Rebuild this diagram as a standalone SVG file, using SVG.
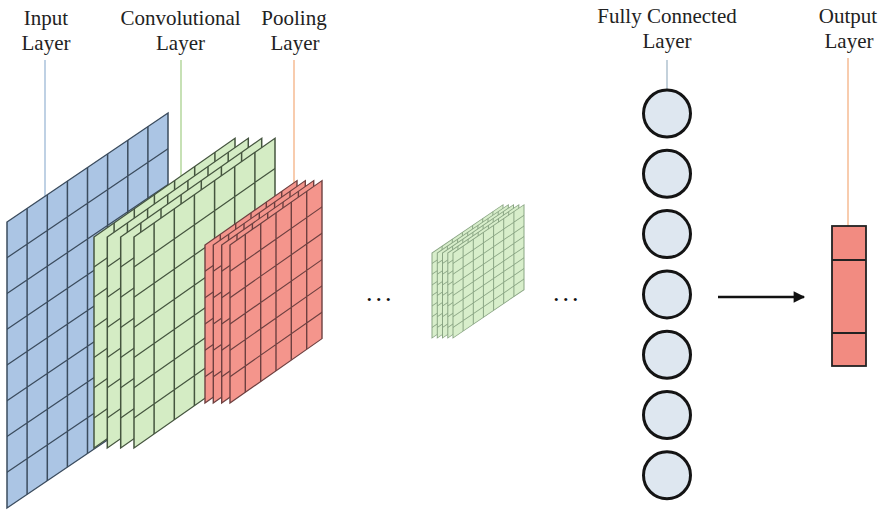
<svg xmlns="http://www.w3.org/2000/svg" xmlns:xlink="http://www.w3.org/1999/xlink" width="881" height="510" viewBox="0 0 881 510">
<style>
.lbl{font-family:"Liberation Serif","Times New Roman",serif;font-size:21px;fill:#222;text-anchor:middle}
.dots{font-family:"Liberation Serif","Times New Roman",serif;font-size:26px;fill:#111;letter-spacing:3px}
.blue rect{fill:#abc5e4;stroke:#3b4c5e;stroke-width:1.5}
.blue path{fill:none;stroke:#3b4c5e;stroke-width:1.5}
.green rect{fill:#d4ecc4;stroke:#45553f;stroke-width:1.5}
.green path{fill:none;stroke:#45553f;stroke-width:1.5}
.red rect{fill:#f4958c;stroke:#6e4040;stroke-width:1.4}
.red path{fill:none;stroke:#6e4040;stroke-width:1.4}
.lg rect{fill:#d8eecb;stroke:#8aa584;stroke-width:1}
.lg path{fill:none;stroke:#8aa584;stroke-width:1}
.node{fill:#dee7f0;stroke:#141414;stroke-width:3}
.lead{fill:none;stroke-width:1.3}
</style>
<defs>
<g id="inSheet" class="blue">
<rect x="0" y="0" width="161" height="286"/>
<path d="M20.1 0V286M40.3 0V286M60.4 0V286M80.5 0V286M100.6 0V286M120.8 0V286M140.9 0V286M0 35.75H161M0 71.5H161M0 107.25H161M0 143H161M0 178.75H161M0 214.5H161M0 250.25H161"/>
</g>
<g id="convSheet" class="green">
<rect x="0" y="0" width="141" height="211"/>
<path d="M20.1 0V211M40.3 0V211M60.4 0V211M80.6 0V211M100.7 0V211M120.9 0V211M0 30.1H141M0 60.3H141M0 90.4H141M0 120.6H141M0 150.7H141M0 180.9H141"/>
</g>
<g id="poolSheet" class="red">
<rect x="0" y="0" width="92" height="158"/>
<path d="M15.3 0V158M30.7 0V158M46 0V158M61.3 0V158M76.7 0V158M0 26.3H92M0 52.7H92M0 79H92M0 105.3H92M0 131.7H92"/>
</g>
<g id="smallSheet" class="lg">
<rect x="0" y="0" width="71" height="85"/>
<path d="M10.1 0V85M20.3 0V85M30.4 0V85M40.6 0V85M50.7 0V85M60.9 0V85M0 10.6H71M0 21.3H71M0 31.9H71M0 42.5H71M0 53.1H71M0 63.8H71M0 74.4H71"/>
</g>
<marker id="arrow" viewBox="0 0 10 10" refX="9" refY="5" markerWidth="5" markerHeight="4.6" orient="auto" markerUnits="strokeWidth">
<path d="M0 0L10 5L0 10Z" fill="#111"/>
</marker>
</defs>
<rect width="881" height="510" fill="#ffffff"/>
<g id="connectors">
<line class="lead" x1="45" y1="60" x2="45" y2="200" stroke="#9db9d6"/>
<line class="lead" x1="181" y1="60" x2="181" y2="180" stroke="#a9d18e"/>
<line class="lead" x1="294" y1="60" x2="294" y2="186" stroke="#f4b183"/>
<line class="lead" x1="667" y1="60" x2="667" y2="90" stroke="#a4b8c8"/>
<line class="lead" x1="848" y1="58" x2="848" y2="226" stroke="#f4b183"/>
<line x1="718" y1="297" x2="804" y2="297" stroke="#111" stroke-width="2.5" marker-end="url(#arrow)"/>
</g>
<g id="input-layer">
<use xlink:href="#inSheet" transform="matrix(1,-0.677,0,1,7,222)"/>
<text class="lbl" x="46" y="25">Input</text>
<text class="lbl" x="46" y="50">Layer</text>
</g>
<g id="conv-layer">
<use xlink:href="#convSheet" transform="matrix(1,-0.7,0,1,94,237)"/>
<use xlink:href="#convSheet" transform="matrix(1,-0.7,0,1,107.3,237)"/>
<use xlink:href="#convSheet" transform="matrix(1,-0.7,0,1,120.7,237)"/>
<use xlink:href="#convSheet" transform="matrix(1,-0.7,0,1,134,237)"/>
<text class="lbl" x="180.5" y="25">Convolutional</text>
<text class="lbl" x="180.5" y="50">Layer</text>
</g>
<g id="pooling-layer">
<use xlink:href="#poolSheet" transform="matrix(1,-0.7,0,1,205,245)"/>
<use xlink:href="#poolSheet" transform="matrix(1,-0.7,0,1,213.3,245)"/>
<use xlink:href="#poolSheet" transform="matrix(1,-0.7,0,1,221.7,245)"/>
<use xlink:href="#poolSheet" transform="matrix(1,-0.7,0,1,230,245)"/>
<text class="lbl" x="294" y="25">Pooling</text>
<text class="lbl" x="295" y="50">Layer</text>
</g>
<g id="dots-left"><text class="dots" x="366" y="301">...</text></g>
<g id="feature-maps">
<use xlink:href="#smallSheet" transform="matrix(1,-0.68,0,1,432,253)"/>
<use xlink:href="#smallSheet" transform="matrix(1,-0.68,0,1,437.3,253)"/>
<use xlink:href="#smallSheet" transform="matrix(1,-0.68,0,1,442.5,253)"/>
<use xlink:href="#smallSheet" transform="matrix(1,-0.68,0,1,447.8,253)"/>
<use xlink:href="#smallSheet" transform="matrix(1,-0.68,0,1,453,253)"/>
</g>
<g id="dots-right"><text class="dots" x="553" y="301">...</text></g>
<g id="fc-layer">
<text class="lbl" x="667" y="23">Fully Connected</text>
<text class="lbl" x="667" y="48">Layer</text>
<circle class="node" cx="667" cy="113.5" r="23.5"/>
<circle class="node" cx="667" cy="173.8" r="23.5"/>
<circle class="node" cx="667" cy="234.1" r="23.5"/>
<circle class="node" cx="667" cy="294.4" r="23.5"/>
<circle class="node" cx="667" cy="354.7" r="23.5"/>
<circle class="node" cx="667" cy="415" r="23.5"/>
<circle class="node" cx="667" cy="475.3" r="23.5"/>
</g>
<g id="output-layer">
<text class="lbl" x="848" y="23">Output</text>
<text class="lbl" x="849" y="48">Layer</text>
<rect x="832" y="226" width="34" height="140" fill="#f28b81" stroke="#222" stroke-width="1.8"/>
<line x1="832" y1="260" x2="866" y2="260" stroke="#222" stroke-width="1.8"/>
<line x1="832" y1="333" x2="866" y2="333" stroke="#222" stroke-width="1.8"/>
</g>
</svg>
